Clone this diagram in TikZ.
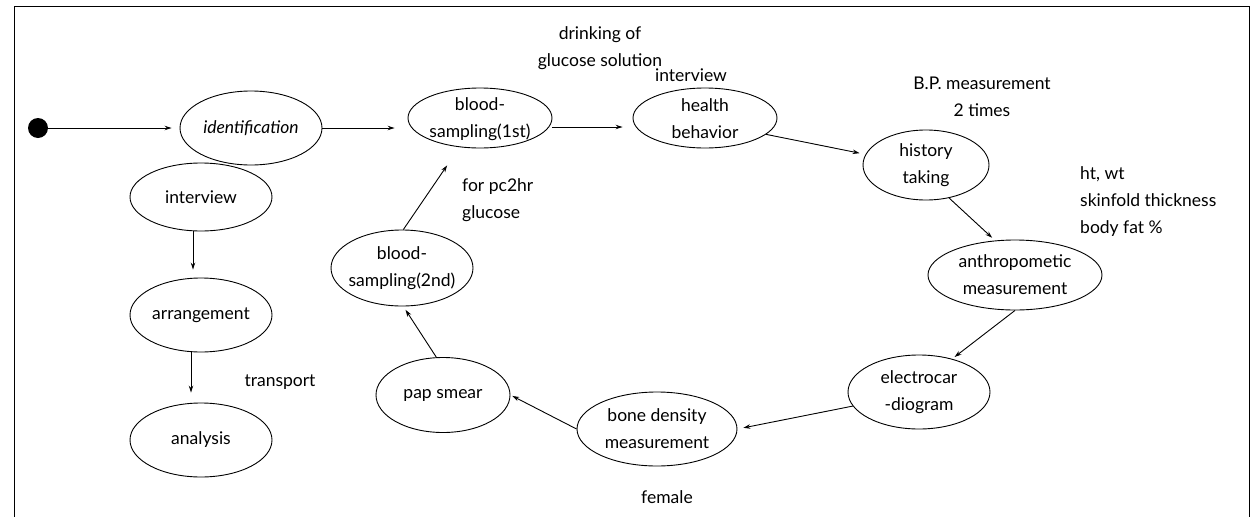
\documentclass[tikz,border=0pt]{standalone}
\usepackage{fontspec}
\setmainfont{Lato}
\usetikzlibrary{shapes.geometric,arrows.meta}
\begin{document}
\begin{tikzpicture}[x=1pt,y=-1pt,
 every node/.style={font=\fontsize{17.5}{27}\selectfont},
 st/.style={draw, ellipse, line width=0.9pt, inner sep=0pt},
 tx/.style={align=center, inner sep=0pt},
 arr/.style={-{Stealth[length=7pt,width=4.5pt]}, line width=0.9pt},
 note/.style={align=center, inner sep=0pt}]
\useasboundingbox (0,0) rectangle (1254,517);
\draw[line width=1pt] (14,517) -- (14,6) -- (1249,6) -- (1249,517);

\node[circle, fill, minimum size=20pt, inner sep=0pt] (s) at (38,128) {};
\node[st, minimum width=142pt, minimum height=74pt, label={[tx]center:\textit{identification}}] (id) at (251,128) {};
\node[st, minimum width=142pt, minimum height=68pt, label={[tx]center:interview}] (iv) at (201,197) {};
\node[st, minimum width=142pt, minimum height=74pt, label={[tx]center:arrangement}] (ar) at (201,315) {};
\node[st, minimum width=142pt, minimum height=74pt, label={[tx]center:analysis}] (al) at (201,440) {};
\node[st, minimum width=144pt, minimum height=60pt, label={[tx, yshift=-1pt]center:blood-\\sampling(1st)}] (b1) at (480,118) {};
\node[st, minimum width=144pt, minimum height=60pt, label={[tx, yshift=-1pt]center:health\\behavior}] (hb) at (705,118) {};
\node[st, minimum width=126pt, minimum height=70pt, label={[tx]center:history\\taking}] (ht) at (926,165) {};
\node[st, minimum width=174pt, minimum height=70pt, label={[tx]center:anthropometic\\measurement}] (an) at (1015,275) {};
\node[st, minimum width=142pt, minimum height=74pt, label={[tx]center:electrocar\\-diogram}] (ec) at (919,392) {};
\node[st, minimum width=160pt, minimum height=74pt, label={[tx]center:bone density\\measurement}] (bd) at (657,429) {};
\node[st, minimum width=134pt, minimum height=75pt, label={[tx]center:pap smear}] (pap) at (443,395) {};
\node[st, minimum width=142pt, minimum height=76pt, label={[tx]center:blood-\\sampling(2nd)}] (b2) at (402,268) {};

\node[note] (n1) at (600,48) {drinking of\\glucose solution};
\node[note] (n2) at (691,75) {interview};
\node[note, align=left, anchor=west] (n3) at (462,200) {for pc2hr\\glucose};
\node[note] (n4) at (982,97) {B.P. measurement\\2 times};
\node[note, align=left, anchor=west] (n5) at (1080,202) {ht, wt\\skinfold thickness\\body fat \%};
\node[note] (n6) at (280,382) {transport};
\node[note] (n7) at (667,497) {female};

\draw[arr, shorten >=8pt] (s) -- (id.west);
\draw[arr, shorten >=13pt] (id.east) -- (b1.west |- id.east);
\draw[arr, shorten >=10pt] ([yshift=-9pt]b1.east) -- ([yshift=-9pt]hb.west);
\draw[arr, shorten >=6pt] (hb.-15) -- (ht.170);
\draw[arr, shorten >=4pt] (ht.-55) -- (an.120);
\draw[arr, shorten >=3pt] (an.south) -- (ec.45);
\draw[arr, shorten >=6pt] (ec.192) -- (bd.east);
\draw[arr, shorten >=2pt] (bd.west) -- (pap.east);
\draw[arr, shorten >=4pt] (pap.100) -- (b2.-88);
\draw[arr, shorten >=22pt] (b2.88) -- (b1.235);
\draw[arr, shorten >=8pt] ([xshift=-8pt]iv.south) -- ([xshift=-8pt]ar.north);
\draw[arr, shorten >=10pt] ([xshift=-10pt]ar.south) -- ([xshift=-10pt]al.north);
\end{tikzpicture}
\end{document}
